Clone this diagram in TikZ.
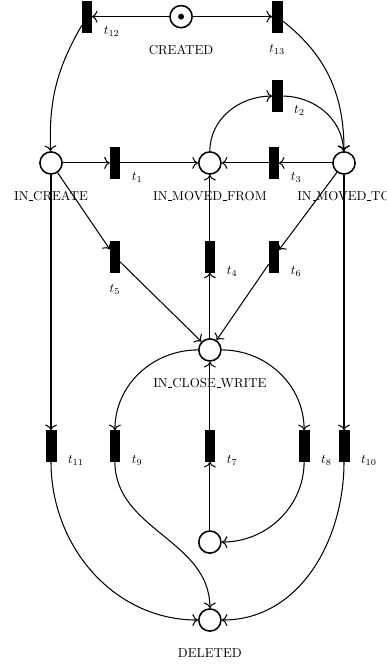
\documentclass[tikz,border=0pt]{standalone}
\usetikzlibrary{petri,arrows.meta}

\def\us{\kern.06em\vbox{\hrule width.3em height.4pt}}

\tikzset{
	every place/.style={minimum size=6mm,very thick},
	every transition/.style={fill=black,minimum width=2.6mm,minimum height=8.4mm,inner sep=0pt},
	every token/.style={minimum size=1.6mm},
	pl/.style={label={[label distance=3.2mm]below:#1}},
	tl/.style={label={[xshift=2mm]below right:$#1$}},
	tb/.style={label={[label distance=2mm]below:$#1$}},
	pfeil/.style={-{Computer Modern Rightarrow[scale=1.3]},thick}
}

\begin{document}
\begin{tikzpicture}
\useasboundingbox (0,0) rectangle (10.47,-17.97);
% Stellen
\node[place,tokens=1,pl=CREATED] (C) at (4.90,-0.45) {};
\node[place,pl=IN\us CREATE] (ICR) at (1.38,-4.41) {};
\node[place,pl=IN\us MOVED\us FROM] (IMF) at (5.68,-4.41) {};
\node[place,pl=IN\us MOVED\us TO] (IMT) at (9.31,-4.41) {};
\node[place,pl=IN\us CLOSE\us WRITE] (ICW) at (5.68,-9.47) {};
\node[place] (P) at (5.68,-14.67) {};
\node[place,pl=DELETED] (D) at (5.68,-16.78) {};
% Transitionen
\node[transition,tl=t_{12}] (t12) at (2.35,-0.45) {};
\node[transition,tb=t_{13}] (t13) at (7.50,-0.45) {};
\node[transition,tl=t_2] (t2) at (7.50,-2.60) {};
\node[transition,tl=t_1] (t1) at (3.11,-4.41) {};
\node[transition,tl=t_3] (t3) at (7.41,-4.41) {};
\node[transition,tb=t_5] (t5) at (3.11,-6.95) {};
\node[transition,tl=t_4] (t4) at (5.68,-6.95) {};
\node[transition,tl=t_6] (t6) at (7.41,-6.95) {};
\node[transition,tl=t_{11}] (t11) at (1.38,-12.07) {};
\node[transition,tl=t_9] (t9) at (3.11,-12.07) {};
\node[transition,tl=t_7] (t7) at (5.68,-12.07) {};
\node[transition,tl=t_8] (t8) at (8.23,-12.07) {};
\node[transition,tl=t_{10}] (t10) at (9.31,-12.07) {};
% Kanten
\draw[pfeil] (C) -- (t12);
\draw[pfeil] (C) -- (t13);
\draw[pfeil] (t12) to[out=240,in=92] (ICR);
\draw[pfeil] (t13) to[out=-38,in=90] (IMT);
\draw[pfeil] (IMF) to[out=90,in=180] (t2);
\draw[pfeil] (t2) to[out=0,in=92] (IMT);
\draw[pfeil] (ICR) -- (t1);
\draw[pfeil] (t1) -- (IMF);
\draw[pfeil] (IMT) -- (t3);
\draw[pfeil] (t3) -- (IMF);
\draw[pfeil] (ICR) -- (t5);
\draw[pfeil] (IMT) -- (t6);
\draw[pfeil] (t5) -- (ICW);
\draw[pfeil] (t6) -- (ICW);
\draw[pfeil] (ICW) -- (t4);
\draw[pfeil] (t4) -- (IMF);
\draw[pfeil] (ICR) -- (t11);
\draw[pfeil] (IMT) -- (t10);
\draw[pfeil] (ICW) to[out=180,in=90] (t9);
\draw[pfeil] (ICW) to[out=0,in=90] (t8);
\draw[pfeil] (P) -- (t7);
\draw[pfeil] (t7) -- (ICW);
\draw[pfeil] (t8) to[out=270,in=0] (P);
\draw[pfeil] (t9) to[out=270,in=90] (D);
\draw[pfeil] (t11) to[out=270,in=180] (D);
\draw[pfeil] (t10) to[out=270,in=0] (D);
\end{tikzpicture}
\end{document}
